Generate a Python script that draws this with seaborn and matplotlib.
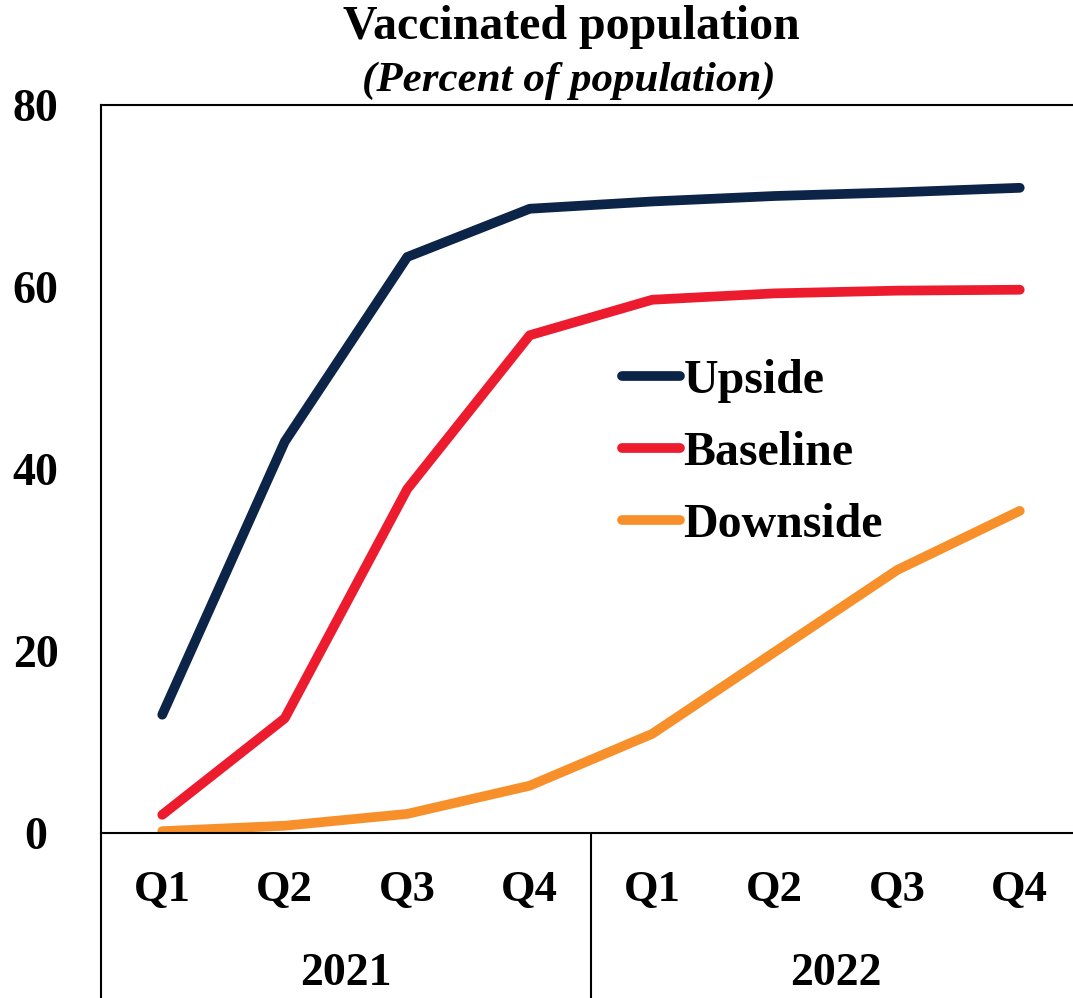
import numpy as np
import pandas as pd
import matplotlib
matplotlib.use("Agg")
import matplotlib.pyplot as plt
import seaborn as sns

quarters = ["Q1", "Q2", "Q3", "Q4", "Q1", "Q2", "Q3", "Q4"]
years = ["2021", "2022"]
upside = [13.0, 43.0, 63.3, 68.6, 69.4, 70.0, 70.4, 70.9]
baseline = [2.0, 12.6, 37.8, 54.7, 58.6, 59.3, 59.6, 59.7]
downside = [0.2, 0.8, 2.1, 5.2, 10.9, 19.9, 28.9, 35.4]
series_names = ["Upside", "Baseline", "Downside"]
colors = ["#0B2447", "#EC1C2E", "#F7902B"]
yticks = [0, 20, 40, 60, 80]

sns.set_style("white")
plt.rcParams["font.family"] = ["Liberation Serif", "DejaVu Serif"]
plt.rcParams["font.weight"] = "bold"
plt.rcParams["text.color"] = "black"
plt.rcParams["xtick.color"] = "black"
plt.rcParams["ytick.color"] = "black"
plt.rcParams["axes.labelcolor"] = "black"

idx = np.arange(len(quarters))
df = pd.DataFrame({
    "x": np.tile(idx, 3),
    "value": upside + baseline + downside,
    "scenario": np.repeat(series_names, len(quarters)),
})

W, H = 1073, 998
fig = plt.figure(figsize=(W / 100, H / 100), dpi=100)
ax = fig.add_axes([101 / W, 1 - 833 / H, 980 / W, 728 / H])

sns.lineplot(data=df, x="x", y="value", hue="scenario", hue_order=series_names,
             palette=colors, linewidth=7, solid_capstyle="round", ax=ax)

ax.set_xlim(-0.5, len(quarters) - 0.5)
ax.set_ylim(0, 80)
ax.set_yticks(yticks)
ax.set_yticklabels([str(t) for t in yticks], fontsize=33, fontweight="bold")
for lab in ax.get_yticklabels():
    lab.set_horizontalalignment("center")
ax.tick_params(axis="y", length=0, pad=47)
ax.set_xticks(idx)
ax.set_xticklabels(quarters, fontsize=32, fontweight="bold", va="center")
ax.tick_params(axis="x", length=0, pad=41)
ax.set_xlabel("")
ax.set_ylabel("")

for s in ["top", "left", "right", "bottom"]:
    ax.spines[s].set_color("black")
    ax.spines[s].set_linewidth(1.5)

# group separators below the axis
for xv in [-0.5, 3.5, len(quarters) - 0.5]:
    ax.plot([xv, xv], [0, -0.3], transform=ax.get_xaxis_transform(),
            color="black", lw=1.5, clip_on=False)
for i, yr in enumerate(years):
    ax.text(1.5 + 4 * i, -(974 - 833) / 728, yr, transform=ax.get_xaxis_transform(),
            ha="center", va="center", fontsize=33, fontweight="bold")

leg = ax.legend(loc="upper left", bbox_to_anchor=(622 / W, 1 - 359 / H),
                bbox_transform=fig.transFigure, frameon=False, fontsize=34.5,
                handlelength=1.2, handletextpad=0.08, labelspacing=0.58,
                borderpad=0, borderaxespad=0)
for line in leg.get_lines():
    line.set_linewidth(7)
    line.set_solid_capstyle("round")
for t in leg.get_texts():
    t.set_fontweight("bold")

fig.text(571 / W, 1 - 27 / H, "Vaccinated population", ha="center", va="center",
         fontsize=34.5, fontweight="bold")
fig.text(569 / W, 1 - 81 / H, "(Percent of population)", ha="center", va="center",
         fontsize=31, fontweight="bold", style="italic")

fig.savefig("out.png", dpi=100)
